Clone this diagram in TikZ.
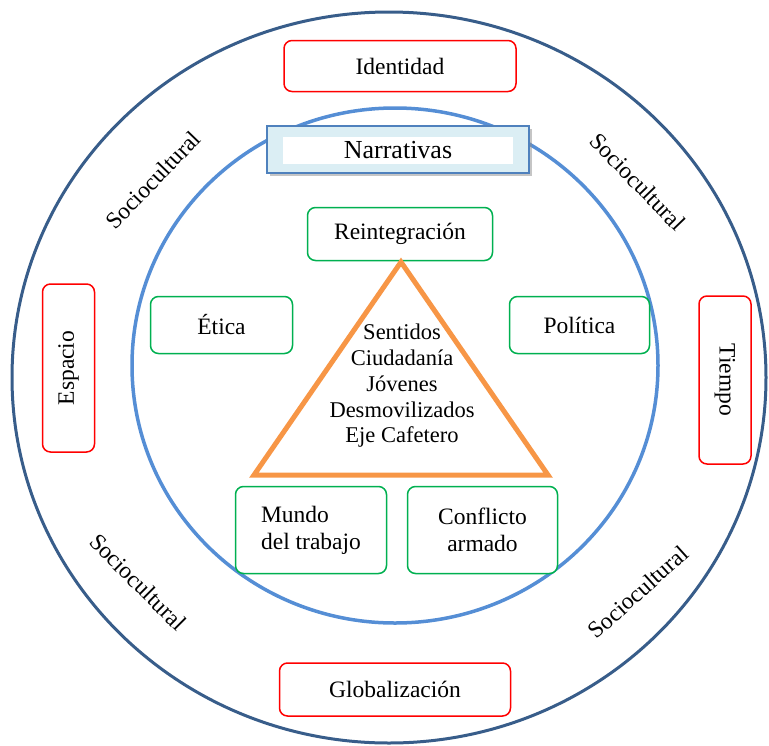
\documentclass[tikz,border=0pt]{standalone}
\usepackage{fontspec}
\setmainfont{Liberation Serif}
\usepackage{tikz}
\usetikzlibrary{shapes, shadows}
\definecolor{ringblue}{RGB}{56,93,138}
\definecolor{circblue}{RGB}{85,142,213}
\definecolor{narrblue}{RGB}{79,129,189}
\definecolor{narrfill}{RGB}{219,238,244}
\definecolor{boxred}{RGB}{255,0,0}
\definecolor{boxgreen}{RGB}{0,176,80}
\definecolor{triorange}{RGB}{247,150,70}
\tikzstyle{every node}=[font=\rmfamily\fontsize{23.5}{27}\selectfont]
\tikzstyle{redbox}=[draw=boxred,line width=1.5pt,rounded corners=8pt,rectangle,fill=white]
\tikzstyle{greenbox}=[draw=boxgreen,line width=1.5pt,rounded corners=8pt,rectangle,fill=white]

\begin{document}
\begin{tikzpicture}[x=1pt,y=-1pt]
    \useasboundingbox (0,0) rectangle (769,745);
    \draw[ringblue, line width=3pt] (389,377.5) ellipse [x radius=377, y radius=365.5];
    \draw[circblue, line width=3.5pt] (395,365.5) ellipse [x radius=263, y radius=257.5];

    \node[redbox, minimum width=232pt, minimum height=51pt] (ident) at (400,66) {Identidad};
    \node[redbox, minimum width=231pt, minimum height=53pt] (glob) at (395,689.5) {Globalización};
    \node[redbox, rotate=90, minimum width=168pt, minimum height=52pt] (esp) at (68.5,368) {Espacio};
    \node[redbox, rotate=-90, minimum width=168pt, minimum height=52pt] (tiempo) at (725,380) {Tiempo};

    \node[rotate=46] (socA) at (153,180) {Sociocultural};
    \node[rotate=-46] (socB) at (638,182) {Sociocultural};
    \node[rotate=-45] (socC) at (138,582) {Sociocultural};
    \node[rotate=42] (socD) at (638,592) {Sociocultural};

    \node[draw=narrblue, line width=2pt, fill=narrfill, rectangle, minimum width=262pt, minimum height=47pt,
          drop shadow={shadow xshift=3pt, shadow yshift=-3pt, fill=black!45}] (narr) at (398,149.5) {};
    \node[fill=white, minimum width=230pt, minimum height=27pt, inner sep=0pt,
          font=\rmfamily\fontsize{26}{30}\selectfont] (narrtxt) at (398,150.5) {Narrativas};

    \node[greenbox, minimum width=185pt, minimum height=53pt] (reint) at (400,234) {Reintegración};
    \node[greenbox, minimum width=142pt, minimum height=57pt] (etica) at (221.5,325) {Ética};
    \node[greenbox, minimum width=140pt, minimum height=57pt] (pol) at (579.5,325) {Política};
    \node[greenbox, minimum width=151pt, minimum height=87pt, align=left] (mundo) at (311,530) {Mundo\\del trabajo};
    \node[greenbox, minimum width=150pt, minimum height=87pt, align=center] (conf) at (482.5,530) {Conflicto\\armado};

    \coordinate (apex) at (401,262);
    \coordinate (baseL) at (254,475);
    \coordinate (baseR) at (548,475);
    \draw[triorange, line width=5pt, line join=miter] (apex) -- (baseR) -- (baseL) -- cycle;
    \node[align=center, inner sep=0pt, font=\rmfamily\fontsize{22.5}{25.75}\selectfont] (core) at (402,386)
        {Sentidos\\Ciudadanía\\Jóvenes\\Desmovilizados\\Eje Cafetero};
\end{tikzpicture}
\end{document}
